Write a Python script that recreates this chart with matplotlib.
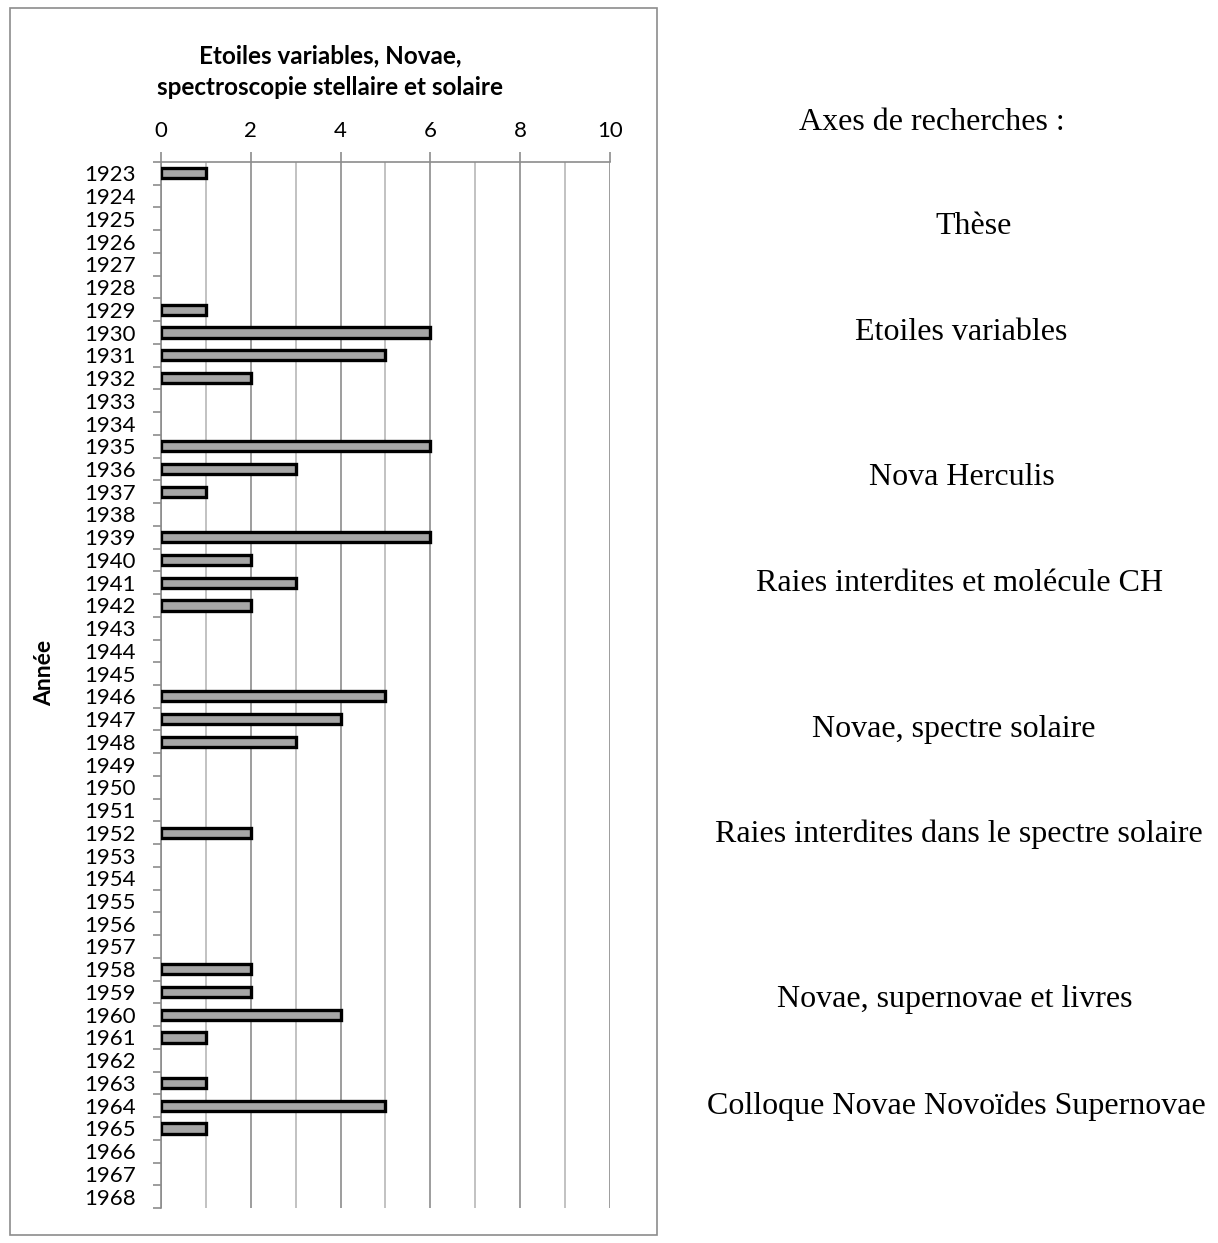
import matplotlib
matplotlib.use("Agg")
import matplotlib.pyplot as plt
from matplotlib.patches import Rectangle
import numpy as np

years = list(range(1923, 1969))
values = {1923: 1, 1929: 1, 1930: 6, 1931: 5, 1932: 2, 1935: 6, 1936: 3, 1937: 1,
          1939: 6, 1940: 2, 1941: 3, 1942: 2, 1946: 5, 1947: 4, 1948: 3, 1952: 2,
          1958: 2, 1959: 2, 1960: 4, 1961: 1, 1963: 1, 1964: 5, 1965: 1}
counts = [values.get(y, 0) for y in years]
xticks = [0, 2, 4, 6, 8, 10]
title = "Etoiles variables, Novae,\nspectroscopie stellaire et solaire"
ylabel = "Année"
side_title = "Axes de recherches :"
side_labels = ["Thèse", "Etoiles variables", "Nova Herculis",
               "Raies interdites et molécule CH", "Novae, spectre solaire",
               "Raies interdites dans le spectre solaire",
               "Novae, supernovae et livres", "Colloque Novae Novoïdes Supernovae"]
side_y_px = [226, 332, 478, 583, 729, 834, 1000, 1106]
side_x_px = [974, 961, 962, 960, 954, 959, 955, 956]

W, H = 1218, 1243
fig = plt.figure(figsize=(W / 100, H / 100), dpi=100)
sans = ["Lato", "DejaVu Sans"]
serif = ["Liberation Serif", "DejaVu Serif"]

# outer frame
fig.patches.append(Rectangle((10 / W, 1 - 1235 / H), 647 / W, 1227 / H,
                             transform=fig.transFigure, fill=False,
                             edgecolor="#8c8c8c", linewidth=1.2))

ax = fig.add_axes([161 / W, 1 - 1208 / H, (610 - 161) / W, (1208 - 162) / H])
pos = np.arange(len(years))
cnt = np.array(counts)
nz = cnt > 0
ax.barh(pos[nz], cnt[nz], height=0.45, color="#a6a6a6", edgecolor="black", linewidth=2.4, zorder=3)
ax.set_ylim(len(years) - 0.5, -0.5)
ax.set_xlim(0, 10)

ax.xaxis.tick_top()
ax.set_xticks(xticks)
ax.set_xticklabels([str(t) for t in xticks], fontsize=16, family=sans)
ax.set_xticks(np.arange(1, 10, 2), minor=True)
ax.tick_params(axis="x", which="major", length=7, width=1.2, color="#8c8c8c", pad=8)
ax.tick_params(axis="x", which="minor", length=0)
ax.grid(axis="x", which="major", color="#8c8c8c", linewidth=1.2, zorder=0)
ax.grid(axis="x", which="minor", color="#b8b8b8", linewidth=1.2, zorder=0)

ax.set_yticks(pos)
ax.set_yticklabels([str(y) for y in years], fontsize=16, family=sans)
ax.set_yticks(np.arange(-0.5, len(years), 1), minor=True)
ax.tick_params(axis="y", which="major", length=0, pad=18)
ax.tick_params(axis="y", which="minor", length=6, width=1.2, color="#8c8c8c")

for s in ["right", "bottom"]:
    ax.spines[s].set_visible(False)
for s in ["left", "top"]:
    ax.spines[s].set_color("#8c8c8c")
    ax.spines[s].set_linewidth(1.2)

fig.text(330 / W, 1 - 72 / H, title, ha="center", va="center", fontsize=17.5,
         fontweight="bold", family=sans, linespacing=1.45)
fig.text(45 / W, 1 - 673 / H, ylabel, ha="center", va="center", rotation=90,
         fontsize=16.5, fontweight="bold", family=sans)

fig.text(932 / W, 1 - 123 / H, side_title, ha="center", va="center", fontsize=23, family=serif)
for lab, xp, yp in zip(side_labels, side_x_px, side_y_px):
    fig.text(xp / W, 1 - yp / H, lab, ha="center", va="center", fontsize=23, family=serif)

fig.savefig("out.png", dpi=100)
